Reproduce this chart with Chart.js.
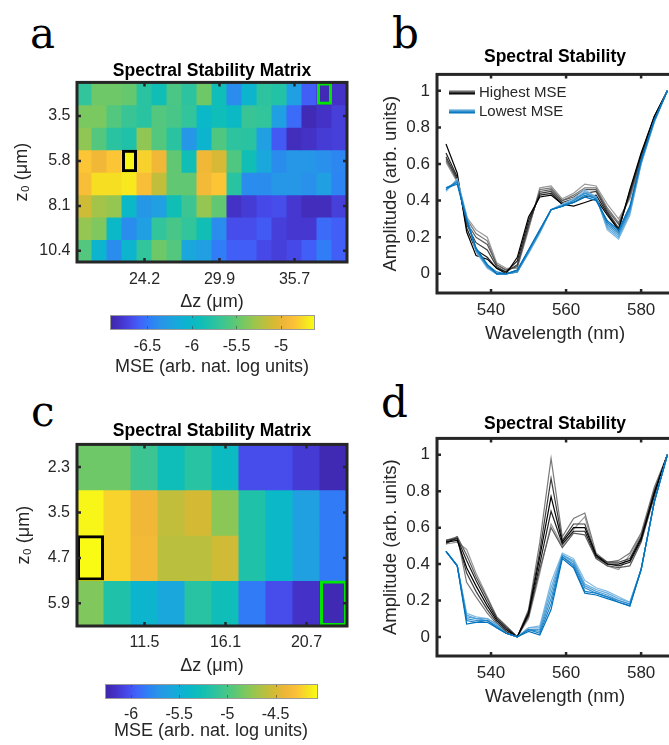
<!DOCTYPE html>
<html>
<head>
<meta charset="utf-8">
<script src="https://cdn.jsdelivr.net/npm/chart.js@4.4.1/dist/chart.umd.min.js"></script>
<style>
html, body { margin: 0; padding: 0; width: 669px; height: 745px; overflow: hidden; background: #fff; }
canvas { position: absolute; }
.lbl { position: absolute; font-family: 'DejaVu Serif', 'Liberation Serif', serif; font-size: 42px; line-height: 42px; color: #000; }
</style>
</head>
<body>
<div class="lbl" style="left:30px;top:13px">a</div>
<div class="lbl" style="left:392px;top:13px">b</div>
<div class="lbl" style="left:31px;top:391px">c</div>
<div class="lbl" style="left:381px;top:382px">d</div>

<canvas id="hmA" width="360" height="264" style="left:0;top:50px"></canvas>
<canvas id="cbA" width="240" height="74" style="left:100px;top:305px"></canvas>
<canvas id="lnB" width="310" height="310" style="left:370px;top:40px"></canvas>
<canvas id="hmC" width="360" height="270" style="left:0;top:410px"></canvas>
<canvas id="cbC" width="240" height="71" style="left:95px;top:674px"></canvas>
<canvas id="lnD" width="310" height="310" style="left:370px;top:400px"></canvas>

<script>
// ---- Дані: панель a (MSE, нат. лог) ----
const zRowsA = ['2.3', '3.5', '4.6', '5.8', '6.9', '8.1', '9.2', '10.4'];
const dzColsA = ['19.6', '20.7', '21.9', '23.0', '24.2', '25.3', '26.5', '27.6', '28.8',
                 '29.9', '31.1', '32.2', '33.4', '34.5', '35.7', '36.8', '38.0', '39.1'];
const zTicksA = ['3.5', '5.8', '8.1', '10.4'];
const dzTicksA = ['24.2', '29.9', '35.7'];
const mseA = [
    [-5.71, -5.45, -5.45, -5.48, -5.75, -5.89, -5.59, -5.73, -5.45, -5.91, -6.39, -6.05, -5.73, -5.78, -6.26, -6.60, -6.87, -6.81],
    [-5.41, -5.41, -5.55, -5.68, -5.75, -5.55, -5.61, -5.71, -6.00, -5.91, -5.98, -5.68, -5.71, -6.26, -6.55, -6.87, -6.81, -6.74],
    [-5.34, -5.55, -5.75, -5.80, -5.34, -5.55, -5.75, -6.32, -6.05, -5.57, -5.73, -5.75, -6.26, -6.62, -6.85, -6.81, -6.76, -6.74],
    [-4.84, -4.95, -4.84, -4.65, -4.79, -4.95, -5.50, -5.89, -4.95, -5.07, -5.57, -5.89, -6.19, -6.39, -6.32, -6.32, -6.37, -6.42],
    [-4.88, -4.74, -4.74, -4.70, -4.88, -5.16, -5.50, -5.50, -4.93, -4.84, -5.75, -6.39, -6.39, -6.32, -6.32, -6.37, -6.26, -6.44],
    [-5.11, -5.27, -5.32, -6.00, -6.32, -6.26, -5.89, -5.66, -5.32, -5.50, -6.81, -6.76, -6.69, -6.67, -6.78, -6.85, -6.85, -6.74],
    [-5.32, -5.39, -6.00, -6.39, -6.26, -5.71, -5.61, -5.71, -5.89, -6.39, -6.67, -6.67, -6.62, -6.74, -6.78, -6.78, -6.55, -6.60],
    [-5.55, -6.05, -6.39, -6.05, -5.71, -5.45, -5.55, -6.19, -6.26, -6.48, -6.60, -6.60, -6.69, -6.74, -6.69, -6.60, -6.48, -6.60]
];
const rangeA = [-6.92, -4.63];
const cbTicksA = [-6.5, -6, -5.5, -5];
const maxCellA = [3, 3];   // [стовпець, рядок] — найбільша MSE
const minCellA = [16, 0];  // найменша MSE

// ---- Дані: панель c ----
const zRowsC = ['2.3', '3.5', '4.7', '5.9'];
const dzColsC = ['8.4', '10.0', '11.5', '13.0', '14.6', '16.1', '17.6', '19.2', '20.7', '22.2'];
const zTicksC = ['2.3', '3.5', '4.7', '5.9'];
const dzTicksC = ['11.5', '16.1', '20.7'];
const mseC = [
    [-4.86, -4.86, -5.06, -5.30, -5.15, -5.35, -6.03, -6.03, -6.12, -6.23],
    [-4.09, -4.22, -4.38, -4.58, -4.51, -4.77, -5.19, -5.39, -5.63, -5.85],
    [-4.07, -4.22, -4.36, -4.60, -4.60, -4.53, -5.19, -5.39, -5.63, -5.85],
    [-4.80, -5.19, -5.43, -5.57, -5.15, -5.30, -5.85, -6.03, -6.16, -6.23]
];
const rangeC = [-6.27, -4.07];
const cbTicksC = [-6, -5.5, -5, -4.5];
const maxCellC = [0, 2];
const minCellC = [9, 3];

// ---- Дані: спектри (панелі b, d) ----
const wavelength = [528, 531, 533.5, 536, 539, 541.5, 544, 547, 550, 553, 556, 559, 562, 565, 568, 571, 574, 577, 580, 583.5, 587];
const wlTicks = [540, 560, 580];
const ampTicks = [0, 0.2, 0.4, 0.6, 0.8, 1];

const highB = [
    [0.71, 0.55, 0.23, 0.10, 0.08, 0.03, 0.00, 0.09, 0.31, 0.42, 0.43, 0.38, 0.37, 0.39, 0.41, 0.32, 0.24, 0.46, 0.66, 0.86, 1.00],
    [0.66, 0.53, 0.25, 0.13, 0.09, 0.03, 0.01, 0.07, 0.29, 0.43, 0.44, 0.38, 0.39, 0.42, 0.43, 0.33, 0.24, 0.45, 0.65, 0.86, 1.00],
    [0.64, 0.52, 0.27, 0.17, 0.13, 0.04, 0.01, 0.05, 0.27, 0.44, 0.45, 0.39, 0.41, 0.44, 0.45, 0.34, 0.25, 0.44, 0.64, 0.85, 1.00],
    [0.63, 0.51, 0.28, 0.20, 0.16, 0.05, 0.02, 0.04, 0.26, 0.45, 0.46, 0.40, 0.42, 0.46, 0.46, 0.35, 0.27, 0.43, 0.63, 0.85, 1.00],
    [0.62, 0.51, 0.30, 0.22, 0.18, 0.05, 0.02, 0.04, 0.25, 0.46, 0.47, 0.40, 0.43, 0.47, 0.47, 0.36, 0.28, 0.42, 0.62, 0.85, 1.00],
    [0.61, 0.50, 0.31, 0.24, 0.20, 0.06, 0.03, 0.03, 0.24, 0.47, 0.48, 0.41, 0.44, 0.49, 0.48, 0.38, 0.30, 0.41, 0.61, 0.84, 1.00]
];
const lowB = [
    [0.47, 0.49, 0.29, 0.14, 0.05, 0.00, 0.00, 0.02, 0.13, 0.24, 0.35, 0.37, 0.39, 0.42, 0.40, 0.29, 0.24, 0.37, 0.62, 0.84, 1.00],
    [0.47, 0.50, 0.30, 0.14, 0.05, 0.01, 0.00, 0.02, 0.13, 0.24, 0.35, 0.37, 0.39, 0.43, 0.41, 0.28, 0.23, 0.36, 0.62, 0.84, 1.00],
    [0.46, 0.50, 0.30, 0.13, 0.04, 0.00, 0.00, 0.01, 0.12, 0.23, 0.35, 0.37, 0.40, 0.44, 0.41, 0.27, 0.22, 0.35, 0.61, 0.84, 1.00],
    [0.46, 0.51, 0.31, 0.13, 0.04, 0.00, 0.00, 0.01, 0.12, 0.23, 0.35, 0.37, 0.40, 0.44, 0.42, 0.26, 0.21, 0.34, 0.61, 0.83, 1.00],
    [0.46, 0.51, 0.31, 0.12, 0.04, 0.00, 0.00, 0.01, 0.12, 0.23, 0.35, 0.38, 0.40, 0.45, 0.42, 0.25, 0.20, 0.33, 0.60, 0.83, 1.00],
    [0.45, 0.52, 0.32, 0.12, 0.03, 0.00, 0.00, 0.01, 0.11, 0.22, 0.35, 0.38, 0.41, 0.46, 0.42, 0.24, 0.19, 0.32, 0.60, 0.83, 1.00]
];
const highD = [
    [0.52, 0.53, 0.38, 0.28, 0.17, 0.09, 0.04, 0.00, 0.13, 0.44, 0.77, 0.52, 0.60, 0.60, 0.45, 0.40, 0.40, 0.42, 0.54, 0.79, 1.00],
    [0.52, 0.54, 0.42, 0.31, 0.19, 0.10, 0.05, 0.00, 0.12, 0.40, 0.69, 0.51, 0.58, 0.58, 0.44, 0.40, 0.39, 0.41, 0.53, 0.78, 1.00],
    [0.53, 0.54, 0.35, 0.25, 0.15, 0.08, 0.03, 0.00, 0.14, 0.47, 0.87, 0.53, 0.62, 0.62, 0.45, 0.41, 0.41, 0.43, 0.55, 0.80, 1.00],
    [0.51, 0.55, 0.45, 0.33, 0.21, 0.11, 0.06, 0.00, 0.11, 0.37, 0.60, 0.49, 0.57, 0.56, 0.43, 0.39, 0.38, 0.39, 0.52, 0.77, 1.00],
    [0.53, 0.55, 0.30, 0.22, 0.13, 0.07, 0.03, 0.00, 0.15, 0.52, 0.98, 0.55, 0.65, 0.68, 0.46, 0.41, 0.42, 0.46, 0.57, 0.82, 1.00],
    [0.51, 0.52, 0.48, 0.35, 0.22, 0.11, 0.06, 0.00, 0.10, 0.35, 0.62, 0.50, 0.59, 0.66, 0.44, 0.39, 0.37, 0.45, 0.56, 0.81, 1.00]
];
const lowD = [
    [0.47, 0.39, 0.07, 0.08, 0.08, 0.05, 0.02, 0.00, 0.03, 0.01, 0.15, 0.43, 0.38, 0.24, 0.23, 0.21, 0.19, 0.17, 0.37, 0.74, 1.00],
    [0.47, 0.39, 0.09, 0.08, 0.09, 0.05, 0.02, 0.00, 0.04, 0.02, 0.18, 0.44, 0.39, 0.25, 0.24, 0.22, 0.19, 0.17, 0.37, 0.74, 1.00],
    [0.47, 0.39, 0.10, 0.09, 0.09, 0.06, 0.02, 0.00, 0.04, 0.03, 0.21, 0.44, 0.40, 0.27, 0.24, 0.22, 0.20, 0.18, 0.37, 0.74, 1.00],
    [0.47, 0.39, 0.11, 0.10, 0.09, 0.06, 0.02, 0.00, 0.04, 0.04, 0.24, 0.45, 0.41, 0.28, 0.25, 0.23, 0.20, 0.18, 0.37, 0.74, 1.00],
    [0.47, 0.39, 0.12, 0.10, 0.10, 0.07, 0.02, 0.00, 0.05, 0.05, 0.27, 0.45, 0.42, 0.29, 0.26, 0.24, 0.21, 0.19, 0.37, 0.74, 1.00],
    [0.47, 0.39, 0.13, 0.11, 0.10, 0.07, 0.02, 0.00, 0.05, 0.06, 0.30, 0.46, 0.43, 0.31, 0.27, 0.25, 0.22, 0.19, 0.37, 0.74, 1.00]
];

// Кольори ліній
const greys = ['#000000', '#1f1f1f', '#3d3d3d', '#5c5c5c', '#7a7a7a', '#999999'];
const blues = ['#0072bd', '#1a80c5', '#3390cd', '#4d9ed5', '#66acdc', '#80bae4'];

// Parula (приблизно)
const parulaStops = [
    [0.00, 62, 38, 168], [0.05, 68, 50, 200], [0.10, 71, 72, 232], [0.15, 64, 100, 250],
    [0.20, 46, 128, 246], [0.25, 40, 148, 232], [0.30, 30, 162, 224], [0.35, 16, 175, 214],
    [0.40, 10, 184, 200], [0.45, 16, 190, 182], [0.50, 36, 194, 166], [0.55, 60, 197, 146],
    [0.60, 84, 199, 124], [0.65, 116, 200, 100], [0.70, 150, 198, 80], [0.75, 182, 192, 64],
    [0.80, 212, 186, 52], [0.85, 238, 182, 56], [0.90, 252, 192, 56], [0.95, 246, 222, 36],
    [1.00, 249, 251, 21]
];
function parula(t) {
    t = Math.max(0, Math.min(1, t));
    for (let i = 1; i < parulaStops.length; i++) {
        const b = parulaStops[i];
        if (t <= b[0]) {
            const a = parulaStops[i - 1];
            const f = (t - a[0]) / (b[0] - a[0]);
            const c = [1, 2, 3].map(k => Math.round(a[k] + (b[k] - a[k]) * f));
            return `rgb(${c[0]},${c[1]},${c[2]})`;
        }
    }
    return 'rgb(249,251,21)';
}

Chart.defaults.font.family = "'Liberation Sans', Arial, sans-serif";
Chart.defaults.color = '#262626';

const AXIS = '#262626';

// Рамка осей + внутрішні засічки
const framePlugin = {
    id: 'frame',
    afterDraw(chart, args, opts) {
        const {ctx, chartArea: a} = chart;
        const xs = chart.scales.x, ys = chart.scales.y;
        const len = opts.tick || 4;
        ctx.save();
        ctx.strokeStyle = AXIS;
        ctx.lineWidth = 2.5;
        ctx.beginPath();
        xs.ticks.forEach((t, i) => {
            const px = xs.getPixelForTick(i);
            ctx.moveTo(px, a.bottom); ctx.lineTo(px, a.bottom - len);
            ctx.moveTo(px, a.top); ctx.lineTo(px, a.top + len);
        });
        ys.ticks.forEach((t, i) => {
            const py = ys.getPixelForTick(i);
            ctx.moveTo(a.left, py); ctx.lineTo(a.left + len, py);
            ctx.moveTo(a.right, py); ctx.lineTo(a.right - len, py);
        });
        ctx.stroke();
        ctx.lineWidth = 3;
        ctx.strokeRect(a.left, a.top, a.right - a.left, a.bottom - a.top);
        ctx.restore();
    }
};

// Кольорова шкала
const colorbarPlugin = {
    id: 'colorbar',
    beforeDatasetsDraw(chart, args, opts) {
        const {ctx, chartArea: a} = chart;
        const xs = chart.scales.x;
        const x0 = xs.getPixelForValue(opts.range[0]);
        const x1 = xs.getPixelForValue(opts.range[1]);
        const g = ctx.createLinearGradient(x0, 0, x1, 0);
        parulaStops.forEach(s => g.addColorStop(s[0], `rgb(${s[1]},${s[2]},${s[3]})`));
        ctx.save();
        ctx.fillStyle = g;
        ctx.fillRect(x0, a.top, x1 - x0, a.bottom - a.top);
        ctx.strokeStyle = 'rgba(60,60,60,0.55)';
        ctx.lineWidth = 1;
        ctx.beginPath();
        xs.ticks.forEach((t, i) => {
            const px = Math.round(xs.getPixelForTick(i)) + 0.5;
            ctx.moveTo(px, a.bottom); ctx.lineTo(px, a.bottom - 3);
            ctx.moveTo(px, a.top); ctx.lineTo(px, a.top + 3);
        });
        ctx.stroke();
        ctx.strokeStyle = '#9a9a9a';
        ctx.strokeRect(Math.round(x0) + 0.5, Math.round(a.top) + 0.5, Math.round(x1 - x0), Math.round(a.bottom - a.top));
        ctx.restore();
    }
};

// Легенда всередині панелі b
const legendPlugin = {
    id: 'spectraLegend',
    afterDatasetsDraw(chart, args, opts) {
        if (!opts.items) return;
        const {ctx, chartArea: a} = chart;
        ctx.save();
        opts.items.forEach((it, k) => {
            const y = a.top + opts.y0 + k * opts.dy;
            it.colors.forEach((c, j) => {
                const off = (j - (it.colors.length - 1) / 2) * 0.6;
                ctx.strokeStyle = c;
                ctx.lineWidth = 1.2;
                ctx.beginPath();
                ctx.moveTo(a.left + opts.x0, y + off);
                ctx.lineTo(a.left + opts.x1, y + off);
                ctx.stroke();
            });
            ctx.fillStyle = AXIS;
            ctx.font = "15px 'Liberation Sans', Arial, sans-serif";
            ctx.textBaseline = 'middle';
            ctx.fillText(it.text, a.left + opts.x1 + 4, y);
        });
        ctx.restore();
    }
};

function boxDataset(cell, color, n) {
    const data = Array(n).fill(null);
    data[cell[0]] = [cell[1] - 0.5, cell[1] + 0.5];
    return {
        data, backgroundColor: 'rgba(0,0,0,0)', borderColor: color, borderWidth: 3,
        borderSkipped: false, grouped: false, categoryPercentage: 1, barPercentage: 1,
        inflateAmount: 0, order: 0
    };
}

function heatmap(id, rows, cols, vals, rowTicks, colTicks, range, maxCell, minCell, L) {
    const datasets = [boxDataset(maxCell, '#000000', cols.length), boxDataset(minCell, '#00e600', cols.length)];
    rows.forEach((r, ri) => {
        datasets.push({
            data: vals[ri].map(() => [ri - 0.5, ri + 0.5]),
            backgroundColor: vals[ri].map(v => parula((v - range[0]) / (range[1] - range[0]))),
            borderWidth: 0, grouped: false, categoryPercentage: 1, barPercentage: 1,
            inflateAmount: 0.5, order: 1
        });
    });
    return new Chart(document.getElementById(id), {
        type: 'bar',
        data: {labels: cols, datasets},
        plugins: [framePlugin],
        options: {
            responsive: false, animation: false, events: [],
            layout: {padding: {left: 0, right: L.right, top: 0, bottom: 0}},
            plugins: {
                legend: {display: false}, tooltip: {enabled: false},
                title: {display: true, fullSize: false, text: 'Spectral Stability Matrix', color: '#000',
                        font: {size: 17.5, weight: 'bold'}, padding: {top: L.tTop, bottom: L.tBot}},
                frame: {tick: 4}
            },
            scales: {
                x: {
                    type: 'category', offset: true,
                    grid: {display: false, drawTicks: false}, border: {display: false},
                    afterBuildTicks: s => { s.ticks = s.ticks.filter(t => colTicks.includes(cols[t.value])); },
                    ticks: {autoSkip: false, maxRotation: 0, padding: L.xPad, font: {size: 16}, color: AXIS},
                    title: {display: true, text: 'Δz (μm)', font: {size: 18}, color: AXIS, padding: {top: 0, bottom: L.xtPad}},
                    afterFit: s => { s.height = L.xH; }
                },
                y: {
                    type: 'linear', reverse: true, min: -0.5, max: rows.length - 0.5,
                    grid: {display: false, drawTicks: false}, border: {display: false},
                    afterBuildTicks: s => {
                        s.ticks = rows.map((r, i) => ({value: i})).filter(t => rowTicks.includes(rows[t.value]));
                    },
                    ticks: {padding: L.yPad, font: {size: 16}, color: AXIS, callback: v => rows[v]},
                    title: {display: true, text: 'z₀ (μm)', font: {size: 18}, color: AXIS, padding: {top: L.ytPad, bottom: 0}},
                    afterFit: s => { s.width = L.yW; }
                }
            }
        }
    });
}

function colorbar(id, range, ticks, L) {
    return new Chart(document.getElementById(id), {
        type: 'scatter',
        data: {datasets: [{data: []}]},
        plugins: [colorbarPlugin],
        options: {
            responsive: false, animation: false, events: [],
            layout: {padding: {left: L.left, right: L.right, top: L.top, bottom: 0}},
            plugins: {legend: {display: false}, tooltip: {enabled: false}, colorbar: {range}},
            scales: {
                x: {
                    type: 'linear', min: range[0], max: range[1],
                    grid: {display: false, drawTicks: false}, border: {display: false},
                    afterBuildTicks: s => { s.ticks = ticks.map(v => ({value: v})); },
                    ticks: {padding: L.xPad, font: {size: 16}, color: AXIS, callback: v => String(v)},
                    title: {display: true, text: 'MSE (arb. nat. log units)', font: {size: 18}, color: AXIS,
                            padding: {top: 0, bottom: L.xtPad}},
                    afterFit: s => { s.height = L.xH; }
                },
                y: {display: false, min: 0, max: 1}
            }
        }
    });
}

function spectra(id, high, low, L, legendItems) {
    const datasets = [];
    low.forEach((vals, i) => datasets.push({
        data: vals.map((v, k) => ({x: wavelength[k], y: v})),
        borderColor: blues[i], borderWidth: 1.2, pointRadius: 0, tension: 0, fill: false
    }));
    high.forEach((vals, i) => datasets.push({
        data: vals.map((v, k) => ({x: wavelength[k], y: v})),
        borderColor: greys[i], borderWidth: 1.2, pointRadius: 0, tension: 0, fill: false
    }));
    return new Chart(document.getElementById(id), {
        type: 'line',
        data: {datasets},
        plugins: [framePlugin, legendPlugin],
        options: {
            responsive: false, animation: false, events: [],
            layout: {padding: {left: 0, right: 7, top: 0, bottom: 0}},
            plugins: {
                legend: {display: false}, tooltip: {enabled: false},
                title: {display: true, fullSize: false, text: 'Spectral Stability', color: '#000',
                        font: {size: 17.5, weight: 'bold'}, padding: {top: L.tTop, bottom: L.tBot}},
                frame: {tick: 4},
                spectraLegend: legendItems ? {items: legendItems, x0: 12, x1: 38, y0: 18, dy: 19} : {}
            },
            scales: {
                x: {
                    type: 'linear', min: 525.6, max: 588.5,
                    grid: {display: false, drawTicks: false}, border: {display: false},
                    afterBuildTicks: s => { s.ticks = wlTicks.map(v => ({value: v})); },
                    ticks: {padding: 6.8, font: {size: 17}, color: AXIS, callback: v => String(v)},
                    title: {display: true, text: 'Wavelength (nm)', font: {size: 18.5}, color: AXIS,
                            padding: {top: 0, bottom: L.xtPad}},
                    afterFit: s => { s.height = L.xH; }
                },
                y: {
                    type: 'linear', min: -0.105, max: 1.09,
                    grid: {display: false, drawTicks: false}, border: {display: false},
                    afterBuildTicks: s => { s.ticks = ampTicks.map(v => ({value: v})); },
                    ticks: {padding: 7, font: {size: 17}, color: AXIS, callback: v => String(v)},
                    title: {display: true, text: 'Amplitude (arb. units)', font: {size: 18.5}, color: AXIS,
                            padding: {top: 9.9, bottom: 0}},
                    afterFit: s => { s.width = 67; }
                }
            }
        }
    });
}

heatmap('hmA', zRowsA, dzColsA, mseA, zTicksA, dzTicksA, rangeA, maxCellA, minCellA,
    {right: 13, tTop: 10.6, tBot: 0.8, xH: 52, xPad: 8, xtPad: 1.2, yW: 77, yPad: 6.5, ytPad: 10.9});
colorbar('cbA', rangeA, cbTicksA, {left: 10, right: 26, top: 10, xH: 50, xPad: 7.9, xtPad: 1.2});

heatmap('hmC', zRowsC, dzColsC, mseC, zTicksC, dzTicksC, rangeC, maxCellC, minCellC,
    {right: 13, tTop: 10.6, tBot: 2.8, xH: 54, xPad: 6.5, xtPad: 3.2, yW: 77, yPad: 7, ytPad: 13});
colorbar('cbC', rangeC, cbTicksC, {left: 10, right: 18, top: 10, xH: 47, xPad: 7.4, xtPad: 3.2});

spectra('lnB', highB, lowB, {tTop: 6.6, tBot: 6.8, xH: 57, xtPad: 4.9},
    [{text: 'Highest MSE', colors: greys.slice().reverse()}, {text: 'Lowest MSE', colors: blues.slice().reverse()}]);
spectra('lnD', highD, lowD, {tTop: 13.6, tBot: 3.8, xH: 54, xtPad: 1.9}, null);
</script>
</body>
</html>
